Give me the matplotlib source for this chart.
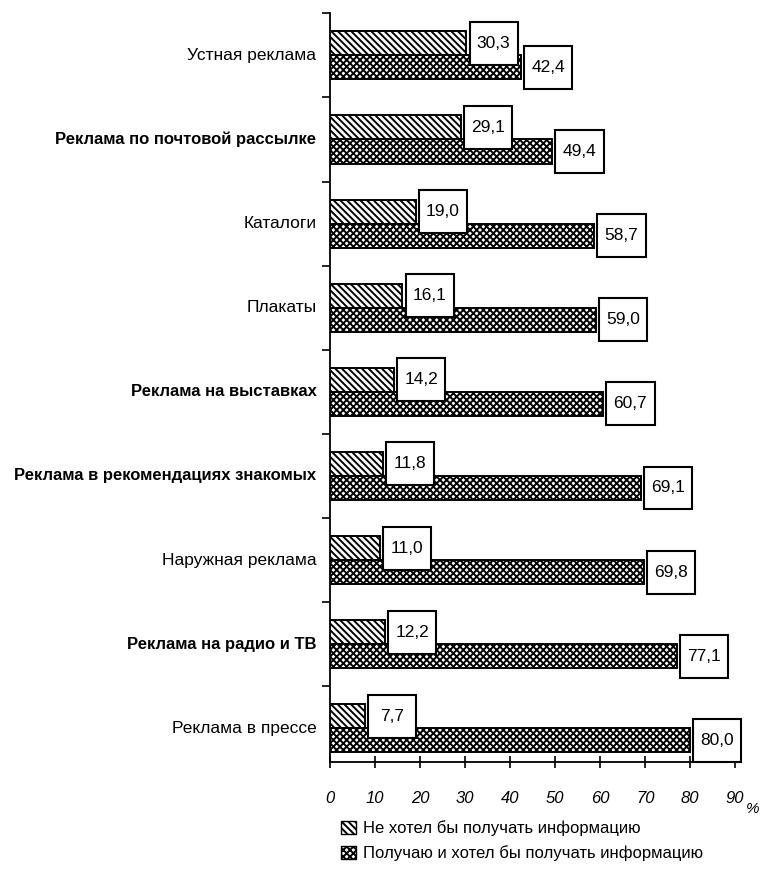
import matplotlib
matplotlib.use("Agg")
import matplotlib.pyplot as plt
from matplotlib.patches import Patch, Rectangle
import numpy as np

plt.rcParams['font.family'] = ['Liberation Sans', 'DejaVu Sans']
plt.rcParams['hatch.linewidth'] = 1.4

categories = ["Устная реклама", "Реклама по почтовой рассылке", "Каталоги", "Плакаты",
              "Реклама на выставках", "Реклама в рекомендациях знакомых",
              "Наружная реклама", "Реклама на радио и ТВ", "Реклама в прессе"]
label_weights = ["normal", "bold", "normal", "normal", "bold", "bold", "normal", "bold", "normal"]
not_wanted = [30.3, 29.1, 19.0, 16.1, 14.2, 11.8, 11.0, 12.2, 7.7]
wanted = [42.4, 49.4, 58.7, 59.0, 60.7, 69.1, 69.8, 77.1, 80.0]
legend_labels = ["Не хотел бы получать информацию",
                 "Получаю и хотел бы получать информацию"]
xticks = [0, 10, 20, 30, 40, 50, 60, 70, 80, 90]

fig = plt.figure(figsize=(7.6, 8.84), dpi=100)
ax = fig.add_axes([0.4342, 0.138, 0.533, 0.847])

y = np.arange(len(categories))
h = 0.286
hatch1 = "\\\\\\\\\\"
hatch2 = "xxxxx"
ax.barh(y - h / 2, not_wanted, height=h, color="white", edgecolor="black",
        hatch=hatch1, linewidth=1.4, zorder=2)
ax.barh(y + h / 2, wanted, height=h, color="white", edgecolor="black",
        hatch=hatch2, linewidth=1.4, zorder=2)

# boxed value labels
bw, bh = 10.7, 0.51
for yy, vals in ((y - h / 2, not_wanted), (y + h / 2, wanted)):
    for yi, v in zip(yy, vals):
        ax.add_patch(Rectangle((v + 0.7, yi - bh / 2), bw, bh, facecolor="white",
                               edgecolor="black", linewidth=1.5, zorder=4, clip_on=False))
        ax.text(v + 0.7 + bw / 2, yi, f"{v:.1f}".replace(".", ","), ha="center",
                va="center", fontsize=12.5, zorder=5)

ax.set_xlim(0, 90)
ax.set_ylim(len(categories) - 0.6, -0.5)
ax.set_xticks(xticks)
ax.set_xticklabels([str(t) for t in xticks], style="italic", fontsize=12)
ax.tick_params(axis="x", direction="inout", length=8, pad=17, width=1.2)
ax.set_yticks(np.arange(-0.5, len(categories) - 1, 1.0))
ax.set_yticklabels([])
ax.tick_params(axis="y", direction="out", length=6, width=1.2)
for yi, name, w in zip(y, categories, label_weights):
    ax.text(-3, yi, name, ha="right", va="center",
            fontsize=12 if w == "bold" else 12.5, fontweight=w)

for s in ("top", "right"):
    ax.spines[s].set_visible(False)
for s in ("left", "bottom"):
    ax.spines[s].set_linewidth(1.3)

fig.text(753 / 760, 1 - 809 / 884, "%", fontsize=11, style="italic", ha="center", va="center")

handles = [Patch(facecolor="white", edgecolor="black", hatch=hatch1),
           Patch(facecolor="white", edgecolor="black", hatch=hatch2)]
fig.legend(handles, legend_labels, loc="upper left", bbox_to_anchor=(333 / 760, 1 - 812 / 884),
           frameon=False, fontsize=12, handlelength=0.9, handleheight=0.9,
           handletextpad=0.4, labelspacing=0.55, borderpad=0)

fig.savefig("out.png", dpi=100)
